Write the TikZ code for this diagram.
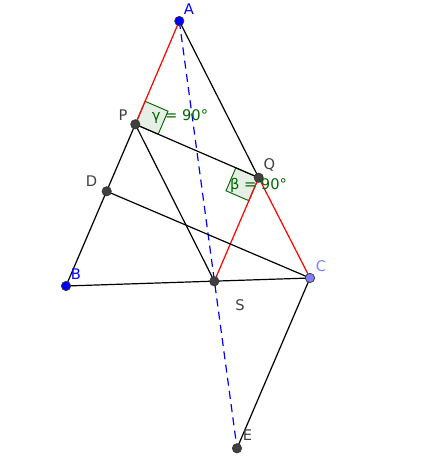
\documentclass[tikz,border=0pt]{standalone}
\usepackage{fontspec}
\setmainfont{DejaVu Sans}
\definecolor{ptC}{RGB}{128,128,255}
\begin{document}
\begin{tikzpicture}[x=0.75pt,y=-0.75pt,
  seg/.style={line width=0.9pt,black},
  redseg/.style={line width=0.9pt,red},
  dashseg/.style={line width=0.9pt,blue,dash pattern=on 6pt off 4pt},
  pt/.style={circle,fill=#1,draw=black!80,line width=0.5pt,inner sep=0pt,minimum size=7pt},
  lbl/.style={font=\fontsize{11}{13}\selectfont,text=#1,inner sep=0pt},
  ang/.style={draw=green!40!black,fill=green!40!black,fill opacity=0.1,line width=0.7pt},
  angtxt/.style={font=\fontsize{11}{13}\selectfont,text=green!40!black,inner sep=0pt}]
\useasboundingbox (0,0) rectangle (440,464);
\coordinate (A) at (179.3,21);
\coordinate (B) at (66,286);
\coordinate (C) at (310,278);
\coordinate (P) at (135.3,124.3);
\coordinate (Q) at (258.7,177.7);
\coordinate (D) at (106.7,191.3);
\coordinate (S) at (214.3,281.3);
\coordinate (E) at (237,448.3);
% right-angle markers
\draw[ang] (P) -- (145.1,101.3) -- (168,111.2) -- (158.2,134.2) -- cycle;
\draw[ang] (Q) -- (235.8,167.8) -- (226,190.8) -- (248.9,200.7) -- cycle;
% segments
\draw[dashseg] (A) -- (E);
\draw[redseg] (A) -- (P);
\draw[seg] (P) -- (B);
\draw[seg] (A) -- (Q);
\draw[redseg] (Q) -- (C);
\draw[redseg] (Q) -- (S);
\draw[seg] (P) -- (Q);
\draw[seg] (P) -- (S);
\draw[seg] (D) -- (C);
\draw[seg] (B) -- (C);
\draw[seg] (C) -- (E);
% angle texts
\node[angtxt] (gt) at (180,117) {γ = 90°};
\node[angtxt] (bt) at (258.5,185.5) {β = 90°};
% points
\node[pt=blue] (nA) at (A) {};
\node[pt=blue] (nB) at (B) {};
\node[pt=ptC] (nC) at (C) {};
\node[pt=black!75] (nP) at (P) {};
\node[pt=black!75] (nQ) at (Q) {};
\node[pt=black!75] (nD) at (D) {};
\node[pt=black!75] (nS) at (S) {};
\node[pt=black!75] (nE) at (E) {};
% labels
\node[lbl=blue] (lA) at (189,9.5) {A};
\node[lbl=blue] (lB) at (76,274) {B};
\node[lbl=ptC] (lC) at (321,266) {C};
\node[lbl=black!75] (lP) at (123,115) {P};
\node[lbl=black!75] (lQ) at (269.5,165) {Q};
\node[lbl=black!75] (lD) at (91.5,181) {D};
\node[lbl=black!75] (lS) at (240,305) {S};
\node[lbl=black!75] (lE) at (247.5,435.5) {E};
\end{tikzpicture}
\end{document}
